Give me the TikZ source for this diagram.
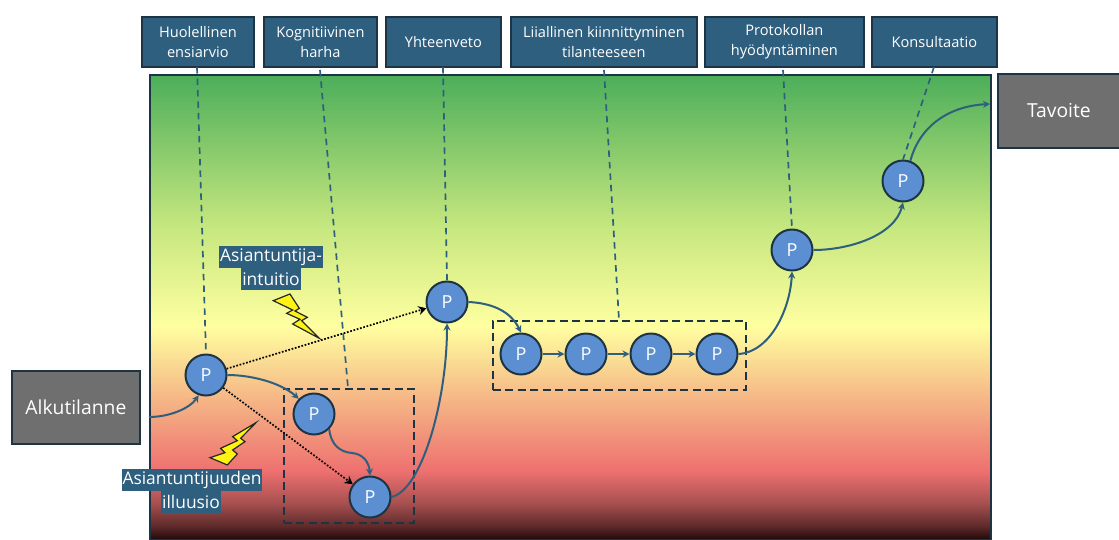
\documentclass[tikz,border=0pt]{standalone}
\usepackage{fontspec}
\setmainfont{Open Sans}
\usetikzlibrary{arrows.meta,positioning}
\definecolor{bluebox}{HTML}{2E5F7F}
\definecolor{edgedark}{HTML}{1C3444}
\definecolor{pfill}{HTML}{5B8FD2}
\definecolor{greybox}{HTML}{6F6F6F}
\definecolor{gA}{HTML}{4CAE5A}
\definecolor{gB}{HTML}{C4E67E}
\definecolor{gC}{HTML}{FFFFA0}
\definecolor{gD}{HTML}{F5B585}
\definecolor{gE}{HTML}{EE7070}
\definecolor{gG}{HTML}{A85050}
\definecolor{gH}{HTML}{5E2A2A}
\definecolor{gF}{HTML}{200808}
% 25bp = y 539, 75bp = y 74
\pgfdeclareverticalshading{bgfade}{100bp}{color(0bp)=(gF);color(25bp)=(gF);color(26.5bp)=(gH);color(29bp)=(gG);color(32.4bp)=(gE);color(40bp)=(gD);color(48bp)=(gC);color(59bp)=(gB);color(75bp)=(gA);color(100bp)=(gA)}
\tikzset{
  topbox/.style={draw=edgedark,line width=1.8pt,fill=bluebox,text=white,font=\fontsize{14.6}{20}\selectfont,align=center,minimum height=50pt,inner sep=0pt,anchor=north west},
  greyblock/.style={draw=edgedark,line width=1.8pt,fill=greybox,text=white,font=\fontsize{19.3}{23}\selectfont,inner sep=0pt,anchor=north west},
  pnode/.style={circle,draw=edgedark,line width=2pt,fill=pfill,text=white,minimum size=41pt,inner sep=0pt,font=\fontsize{18}{20}\selectfont},
  flow/.style={draw=bluebox,line width=2pt,-{Stealth[length=7pt,width=7pt]}},
  leader/.style={draw=bluebox,line width=1.7pt,dash pattern=on 6.5pt off 5pt},
  shortcut/.style={draw=black,line width=1.7pt,dash pattern=on 1.7pt off 1.7pt,-{Stealth[length=8pt,width=9pt]}},
  groupbox/.style={draw=edgedark,line width=1.9pt,dash pattern=on 8pt off 4.5pt,inner sep=0pt,anchor=north west},
  tag/.style={fill=bluebox,text=white,font=\fontsize{17.4}{20}\selectfont,inner xsep=1pt,inner ysep=0pt,minimum height=22pt},
  bolt/.style={draw=black!85,line width=1.2pt,fill=yellow!92!white}
}
\begin{document}
\begin{tikzpicture}[x=1pt,y=-1pt]
\useasboundingbox (0,0) rectangle (1119,539);
% background field
\node[draw=edgedark,line width=1.8pt,shading=bgfade,minimum width=841pt,minimum height=465pt,inner sep=0pt,anchor=north west] (field) at (149,74) {};
% side boxes
\node[greyblock,minimum width=128pt,minimum height=73pt] (start) at (11,370) {Alkutilanne};
\node[greyblock,minimum width=122pt,minimum height=74pt] (goal) at (997,73) {Tavoite};
% top labels
\node[topbox,minimum width=112pt] (t1) at (141,16) {Huolellinen\\ensiarvio};
\node[topbox,minimum width=113pt] (t2) at (263,16) {Kognitiivinen\\harha};
\node[topbox,minimum width=115pt] (t3) at (385,16) {Yhteenveto};
\node[topbox,minimum width=186pt] (t4) at (510,16) {Liiallinen kiinnittyminen\\tilanteeseen};
\node[topbox,minimum width=159pt] (t5) at (704,16) {Protokollan\\hyödyntäminen};
\node[topbox,minimum width=125pt] (t6) at (871,16) {Konsultaatio};
% group frames
\node[groupbox,minimum width=130pt,minimum height=134pt] (g1) at (283,388) {};
\node[groupbox,minimum width=253pt,minimum height=69pt] (g2) at (492,320) {};
% process nodes
\node[pnode] (p1) at (206,375) {P};
\node[pnode] (p2) at (314,414) {P};
\node[pnode] (p3) at (370,497) {P};
\node[pnode] (p4) at (447,302) {P};
\node[pnode] (p5) at (521,354) {P};
\node[pnode] (p6) at (586,354) {P};
\node[pnode] (p7) at (651,354) {P};
\node[pnode] (p8) at (717,354) {P};
\node[pnode] (p9) at (792,250) {P};
\node[pnode] (p10) at (903,181) {P};
% free ends of the leaders
\coordinate (l1) at (197,67);
\coordinate (l2) at (320,70);
\coordinate (l3) at (443,67);
\coordinate (l4) at (604,70);
\coordinate (l5) at (783,70);
\coordinate (l6) at (934,67);
\coordinate (g1top) at (348,388);
\coordinate (g2top) at (619,320);
\coordinate (fieldin) at (149,417);
\coordinate (fieldout) at (990,104);
\coordinate (wiggle) at (352,453);
% leaders
\draw[leader] (l1) -- (p1.north);
\draw[leader] (l2) -- (g1top);
\draw[leader] (l3) -- (p4.north);
\draw[leader] (l4) -- (g2top);
\draw[leader] (l5) -- (p9.north);
\draw[leader] (l6) -- (p10.north);
% flow
\draw[flow] (fieldin) .. controls (170,417) and (190,408) .. (p1.250);
\draw[flow] (p1.east) .. controls (250,375) and (280,382) .. (p2.135);
\draw[flow] (p2.south east) .. controls (331,445) and (340,452) .. (wiggle) .. controls (363,454) and (369,462) .. (p3.north);
\draw[flow] (p3.east) .. controls (422,490) and (447,400) .. (p4.south);
\draw[flow] (p4.east) .. controls (490,303) and (510,310) .. (p5.north);
\draw[flow] (p5) -- (p6);
\draw[flow] (p6) -- (p7);
\draw[flow] (p7) -- (p8);
\draw[flow] (p8.east) .. controls (770,352) and (790,310) .. (p9.south);
\draw[flow] (p9.east) .. controls (850,250) and (895,235) .. (p10.south);
\draw[flow] (p10.70) .. controls (920,125) and (950,106) .. (fieldout);
% shortcuts
\draw[shortcut] (p1) -- (p4);
\draw[shortcut] (p1) -- (p3);
% lightning bolts
\begin{scope}[shift={(100,230)},x=.3333pt,y=-.3333pt]
\draw[bolt] (520,212)--(570,192)--(598,235)--(585,243)--(622,262)--(605,272)--(658,325)--(578,282)--(600,268)--(560,250)--(578,240)--cycle;
\draw[bolt] (468,578)--(398,620)--(412,632)--(362,655)--(375,668)--(330,683)--(382,705)--(412,672)--(398,660)--(435,635)--(422,625)--cycle;
\end{scope}
% tags
\node[tag] (a1) at (271,257) {Asiantuntija-};
\node[tag] (a2) at (271,279) {intuitio};
\node[tag] (b1) at (192,480) {Asiantuntijuuden};
\node[tag] (b2) at (191,502) {illuusio};
\end{tikzpicture}
\end{document}
